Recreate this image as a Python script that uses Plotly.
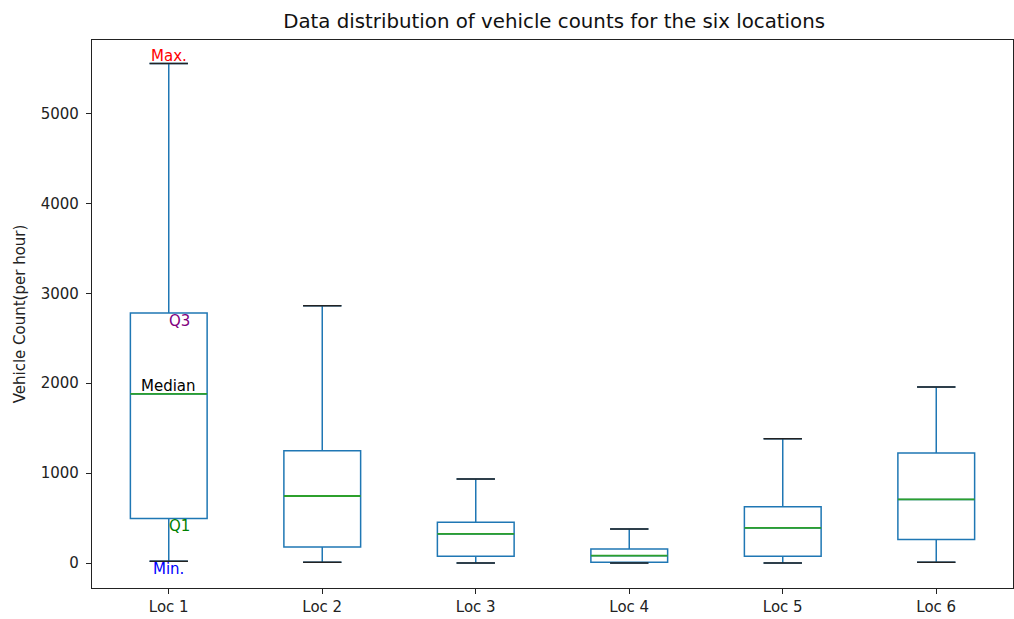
import plotly.graph_objects as go

locations = ["Loc 1", "Loc 2", "Loc 3", "Loc 4", "Loc 5", "Loc 6"]
positions = [1, 2, 3, 4, 5, 6]
mins = [20, 9, 0, 0, 0, 9]
q1s = [497, 180, 76, 9, 76, 261]
medians = [1881, 746, 324, 83, 391, 708]
q3s = [2780, 1249, 453, 157, 627, 1223]
maxs = [5555, 2861, 934, 379, 1382, 1959]

BOX_W = 0.5
CAP_W = 0.25
FONT = "DejaVu Sans"

fig = go.Figure()
fig.add_trace(go.Box(
    x=positions, q1=q1s, median=medians, q3=q3s,
    lowerfence=mins, upperfence=maxs,
    width=BOX_W, whiskerwidth=0.5,
    line=dict(color="#1f77b4", width=1.5),
    fillcolor="rgba(0,0,0,0)", boxpoints=False, showlegend=False,
    hoverinfo="skip",
))

def seg_lines(vals, half):
    xs, ys = [], []
    for p, v in zip(positions, vals):
        xs += [p - half, p + half, None]
        ys += [v, v, None]
    return xs, ys

mx, my = seg_lines(medians, BOX_W / 2)
fig.add_trace(go.Scatter(x=mx, y=my, mode="lines", line=dict(color="#2ca02c", width=1.8),
                         showlegend=False, hoverinfo="skip"))
for vals in (maxs, mins):
    cx, cy = seg_lines(vals, CAP_W / 2)
    fig.add_trace(go.Scatter(x=cx, y=cy, mode="lines", line=dict(color="#222222", width=1.5),
                             showlegend=False, hoverinfo="skip"))

ann_font = dict(family=FONT, size=15)
fig.add_annotation(x=positions[0], y=maxs[0], text="Max.", showarrow=False,
                   xanchor="center", yanchor="bottom", yshift=-3,
                   font=dict(ann_font, color="red"))
fig.add_annotation(x=positions[0], y=q3s[0], text="Q3", showarrow=False,
                   xanchor="left", yanchor="top", xshift=-2, yshift=3,
                   font=dict(ann_font, color="purple"))
fig.add_annotation(x=positions[0], y=medians[0], text="Median", showarrow=False,
                   xanchor="center", yanchor="bottom", yshift=-3,
                   font=dict(ann_font, color="black"))
fig.add_annotation(x=positions[0], y=q1s[0], text="Q1", showarrow=False,
                   xanchor="left", yanchor="top", xshift=-2, yshift=3,
                   font=dict(ann_font, color="green"))
fig.add_annotation(x=positions[0], y=mins[0], text="Min.", showarrow=False,
                   xanchor="center", yanchor="top", yshift=3,
                   font=dict(ann_font, color="blue"))

fig.update_layout(
    width=1014, height=619,
    margin=dict(l=92, r=1, t=40, b=31),
    plot_bgcolor="white", paper_bgcolor="white",
    font=dict(family=FONT, size=15, color="#222222"),
    title=dict(text="Data distribution of vehicle counts for the six locations",
               x=0.5465, xanchor="center", y=1 - 21 / 619, yanchor="middle",
               font=dict(family=FONT, size=19.8, color="#111111")),
    boxmode="overlay",
)
fig.update_xaxes(range=[0.5, 6.5], tickvals=positions, ticktext=locations,
                 showgrid=False, zeroline=False, showline=True, linecolor="#222222",
                 linewidth=1.2, mirror=True, ticks="outside", ticklen=5,
                 tickcolor="#222222", tickfont=dict(family=FONT, size=15))
fig.update_yaxes(range=[-277, 5817], tickvals=[0, 1000, 2000, 3000, 4000, 5000],
                 showgrid=False, zeroline=False, showline=True, linecolor="#222222",
                 linewidth=1.2, mirror=True, ticks="outside", ticklen=5,
                 tickcolor="#222222", tickfont=dict(family=FONT, size=15),
                 ticklabelstandoff=4,
                 title=dict(text="Vehicle Count(per hour)", standoff=11,
                            font=dict(family=FONT, size=15)))

fig.write_html("out.html", config={"displayModeBar": False},
               post_script="document.body.style.margin='0';document.body.style.overflow='hidden';")
